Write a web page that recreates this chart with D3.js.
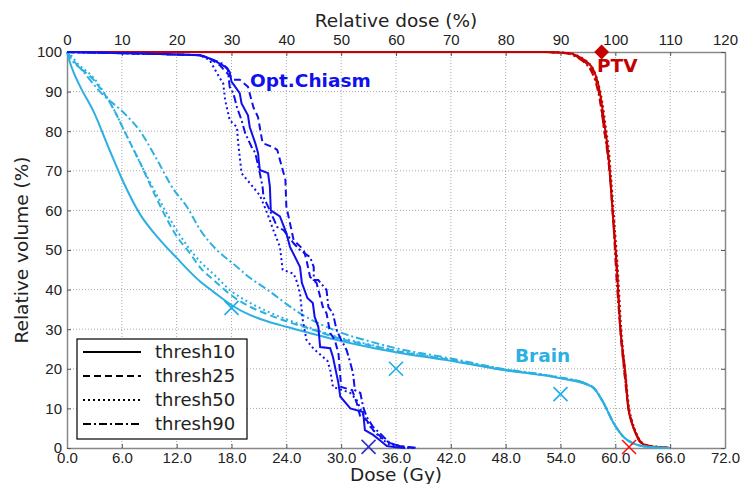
<!DOCTYPE html>
<html>
<head>
<meta charset="utf-8">
<script src="https://cdn.jsdelivr.net/npm/d3@7"></script>
<style>
body { margin: 0; background: #fff; }
svg { font-family: "DejaVu Sans", sans-serif; }
</style>
</head>
<body>
<svg id="graph1"></svg>
<script>
// ticks
var doseTicks = [0, 6, 12, 18, 24, 30, 36, 42, 48, 54, 60, 66, 72]
var relTicks = [0, 10, 20, 30, 40, 50, 60, 70, 80, 90, 100, 110, 120]
var volTicks = [0, 10, 20, 30, 40, 50, 60, 70, 80, 90, 100]
var thresholds = ["thresh10", "thresh25", "thresh50", "thresh90"]

// DVH curves, [dose (Gy), volume (%)]
var brain10 = [[0,100],[0.3,97.5],[0.7,95],[1.5,91],[2.9,85],[4.7,75],[6,68],[8,59],[10,53],[12,48],[14.6,42],[16,39.5],[18.2,35.8],[20,33.6],[21.9,32],[24,30.6],[26.6,29],[30,27],[33,25.5],[36,24.2],[42,22],[47.4,19.8],[54,17.6],[56.9,16],[57.6,15.2],[58.7,11.4],[59.8,6.3],[60.9,2.8],[62.4,0.8],[64,0.2],[66,0]]
var brain25 = [[0,100],[0.5,98.5],[1,97],[2.9,93],[5,86],[6.5,79],[8,72],[9.8,63],[12,53.5],[13.5,49],[14.6,45.5],[16,42.5],[18.2,38.2],[20,35.7],[21.9,33.8],[24,32],[27,29.8],[30,27.5],[33,26],[36,24.5],[42,22.2],[47.4,19.9],[54,17.7],[56.9,16.1],[57.6,15.2],[58.7,11.4],[59.8,6.3],[60.9,2.8],[62.4,0.8],[64,0.2],[66,0]]
var brain50 = [[0,100],[0.5,99],[1,97.5],[2.9,93.5],[5,86],[6.5,79],[8,72],[9.8,64],[12,55],[14.6,47],[16,44],[18.2,39.2],[19.3,37.6],[21.9,34.5],[24,32.5],[27,30],[30,27.8],[33,26.2],[36,24.6],[42,22.3],[47.4,20],[54,17.7],[56.9,16.1],[57.6,15.2],[58.7,11.4],[59.8,6.3],[60.9,2.8],[62.4,0.8],[64,0.2],[66,0]]
var brain90 = [[0,100],[0.5,98],[1.4,96],[3.6,90],[6.5,84],[8,80],[9.8,73],[11.6,65.5],[13.1,61],[14.6,55],[16.4,50],[18.2,46.5],[20,43],[21.9,40],[25.5,34],[29.9,29.2],[33,27],[36,25.2],[42,22.6],[47.4,20.1],[54,17.8],[56.9,16.2],[57.6,15.3],[58.7,11.5],[59.8,6.4],[60.9,2.8],[62.4,0.8],[64,0.2],[66,0]]

var chiasm10 = [[0,100],[10,99.5],[14.5,99.2],[14.9,99],[16,98],[17.5,96],[17.8,95],[18,92.5],[18.9,89.6],[19.1,87],[19.8,84],[20,81],[20.6,77],[20.9,74.5],[21.1,70.2],[22,69.4],[22.2,66],[22.3,60],[23.3,58.5],[24,54.3],[24.4,50.8],[25.5,45.7],[25.7,41.7],[26.3,37.9],[26.9,36.6],[27.1,33.1],[27.5,30.6],[27.7,25.5],[28.8,25.2],[29.1,23],[29.7,16.4],[29.9,13],[31,10],[32.4,9.1],[32.6,4.5],[33.5,3.3],[34.2,2],[35,0.5],[36,0.2],[37,0]]
var chiasm25 = [[0,100],[10,99.5],[14.5,99.2],[15.5,98.5],[16.7,96.7],[18.2,93],[18.9,93],[19.8,91.2],[20.4,86],[20.9,83.6],[21.4,77],[22.5,76],[23,75.3],[23.9,67.7],[24,61],[24.8,52.5],[25.9,50],[26.2,47.5],[26.6,43.2],[27.3,41.7],[28,35.6],[28.4,34],[28.8,29],[29.3,27.3],[29.7,24],[30,15.4],[31.2,14.6],[31.7,11.4],[32.1,7.8],[32.8,7],[33.5,4.5],[34.5,2.5],[35.3,1.3],[36.4,0.5],[38,0]]
var chiasm50 = [[0,100],[10,99.5],[14.5,99.2],[15.6,98],[16.4,94.7],[17.1,92],[17.3,87.9],[17.8,82.8],[18.6,81],[18.7,77.8],[18.9,73.5],[19.1,69.4],[19.7,67.7],[20,66.9],[21.1,63.8],[21.7,60.5],[22.2,57.5],[22.5,55.5],[23.3,50.8],[23.6,45],[24.8,44],[25.2,41.7],[25.5,39],[25.8,32.3],[26.2,27.3],[27,25],[28.5,22],[28.8,19.7],[29.1,15.4],[30.2,14.6],[31,13.9],[31.7,12.1],[32.3,8.8],[33.2,5.3],[34.2,2.8],[35.3,0.8],[36.5,0.2],[37.5,0]]
var chiasm90 = [[0,100],[10,99.5],[14.5,99.2],[16,98],[17.1,97],[17.6,95.5],[17.8,91.2],[18.2,89.6],[18.6,86],[19.1,82.8],[19.5,79.5],[20.2,76],[20.6,74.5],[21.1,69.4],[21.4,66],[21.5,63.4],[22.2,60],[23,55.8],[23.7,55],[24.8,51.7],[25.5,50],[26.6,48.2],[27,45.7],[27,42.4],[27.5,42.4],[28.4,39.9],[28.6,35.6],[29.1,34],[29.5,29.8],[30,27.3],[30.6,24.7],[31,21.5],[31.3,18.9],[31.5,14.6],[32.1,13.9],[32.4,10.4],[32.8,7.8],[33.5,5.3],[34.2,3.8],[35.3,1.3],[36.5,0.4],[38.5,0]]

var ptv10 = [[0,100],[52,100],[55,99.7],[56.1,98.7],[56.9,97.5],[57.6,95.5],[58.1,92.2],[58.5,87],[58.9,80.3],[59.2,75],[59.4,69.4],[59.8,56.8],[60.2,44.2],[60.5,31.6],[61.1,18.9],[61.4,10.4],[61.8,6.3],[62.2,3.8],[62.7,1.5],[63.5,0.6],[65,0.2],[66,0]]
var ptv25 = [[0,100],[52,100],[55,99.6],[56,98.6],[56.8,97.2],[57.5,95],[58,92],[58.4,87],[58.8,80],[59.2,74],[59.4,69],[59.8,56.5],[60.2,44],[60.5,31.5],[61,19],[61.4,10.6],[61.8,6.5],[62.2,4],[62.8,1.5],[63.6,0.6],[65,0.2],[66,0]]
var ptv50 = [[0,100],[52,100],[55,99.7],[56.1,98.8],[56.9,97.6],[57.6,95.6],[58.1,92.4],[58.6,87],[59,80.3],[59.3,75],[59.5,69.4],[59.9,56.8],[60.3,44.2],[60.6,31.6],[61.1,19],[61.5,10.4],[61.9,6.3],[62.3,3.8],[62.8,1.5],[63.6,0.6],[65,0.2],[66,0]]
var ptv90 = [[0,100],[52,100],[54.8,99.6],[55.9,98.5],[56.7,97.2],[57.4,95],[57.9,92],[58.4,86.5],[58.8,80],[59.1,75],[59.4,69],[59.8,56.5],[60.1,44],[60.5,31.5],[61,19],[61.4,10.6],[61.8,6.5],[62.2,4],[62.8,1.6],[63.6,0.6],[65,0.2],[66,0]]

// constraint markers [dose (Gy), volume (%)]
var brainMarks = [[18, 35.4], [36, 20], [54, 13.6]]
var chiasmMarks = [[33, 0.3]]
var ptvMarks = [[61.5, 0.25]]
var ptvDiamond = [[97.5, 100]] // relative dose (%)

var svgw = 745
var svgh = 484
var margins = {left: 67, top: 52, right: 20, bottom: 36}
var graphDim = {width: svgw - margins.left - margins.right, height: svgh - margins.top - margins.bottom}

var colors = {brain: "#2cb0e1", chiasm: "#1010ee", ptv: "#c40000"}
var dashes = ["none", "7,4", "2,3", "8,3,2,3"]

var svg = d3.select("#graph1").attr("width", svgw).attr("height", svgh)

var xScale = d3.scaleLinear().domain([0, 72]).range([margins.left, margins.left + graphDim.width])
var xRel = d3.scaleLinear().domain([0, 120]).range([margins.left, margins.left + graphDim.width])
var yScale = d3.scaleLinear().domain([0, 100]).range([margins.top + graphDim.height, margins.top])

// grid
var grid = svg.append("g")
grid.selectAll("line.vx").data(doseTicks.slice(1, -1)).enter().append("line")
    .attr("x1", function(d){return xScale(d)}).attr("x2", function(d){return xScale(d)})
    .attr("y1", yScale(0)).attr("y2", yScale(100))
    .attr("stroke", "#aaa").attr("stroke-dasharray", "1,2").attr("stroke-width", 1)
grid.selectAll("line.hy").data(volTicks.slice(1, -1)).enter().append("line")
    .attr("y1", function(d){return yScale(d)}).attr("y2", function(d){return yScale(d)})
    .attr("x1", xScale(0)).attr("x2", xScale(72))
    .attr("stroke", "#aaa").attr("stroke-dasharray", "1,2").attr("stroke-width", 1)

// axes
var styleAxis = function(g)
{
    g.selectAll(".domain").attr("stroke", "#888").attr("stroke-width", 1.5)
    g.selectAll(".tick line").attr("stroke", "#555")
    g.selectAll("text").style("font-size", "15px").attr("fill", "#222")
}
svg.append("g").attr("transform", "translate(0," + yScale(0) + ")")
    .call(d3.axisBottom(xScale).tickValues(doseTicks).tickFormat(d3.format(".1f")).tickSizeInner(-4).tickSizeOuter(0).tickPadding(4))
    .call(styleAxis)
svg.append("g").attr("transform", "translate(0," + yScale(100) + ")")
    .call(d3.axisTop(xRel).tickValues(relTicks).tickFormat(d3.format("d")).tickSizeInner(-4).tickSizeOuter(0).tickPadding(7))
    .call(styleAxis)
svg.append("g").attr("transform", "translate(" + xScale(0) + ",0)")
    .call(d3.axisLeft(yScale).tickValues(volTicks).tickSizeInner(-4).tickSizeOuter(0).tickPadding(5))
    .call(styleAxis)
svg.append("g").attr("transform", "translate(" + xScale(72) + ",0)")
    .call(d3.axisRight(yScale).tickValues(volTicks).tickFormat("").tickSizeInner(-4).tickSizeOuter(0))
    .call(styleAxis)

// axis labels
svg.append("text").text("Relative dose (%)").attr("text-anchor", "middle")
    .attr("x", margins.left + graphDim.width / 2).attr("y", 27).style("font-size", "18.5px").attr("fill", "#222")
svg.append("text").text("Dose (Gy)").attr("text-anchor", "middle")
    .attr("x", margins.left + graphDim.width / 2).attr("y", 481).style("font-size", "18.5px").attr("fill", "#222")
svg.append("text").text("Relative volume (%)").attr("text-anchor", "middle")
    .attr("transform", "translate(28," + (margins.top + graphDim.height / 2) + ") rotate(-90)")
    .style("font-size", "18.5px").attr("fill", "#222")

// curves
var line = d3.line().x(function(d){return xScale(d[0])}).y(function(d){return yScale(d[1])})
var drawSet = function(sets, color, curve)
{
    sets.forEach(function(s, i)
    {
        svg.append("path").datum(s)
            .attr("d", line.curve(curve))
            .attr("fill", "none")
            .attr("stroke", color)
            .attr("stroke-width", 2)
            .attr("stroke-dasharray", dashes[i])
    })
}
drawSet([ptv10, ptv25, ptv50, ptv90], colors.ptv, d3.curveMonotoneX)
drawSet([brain10, brain25, brain50, brain90], colors.brain, d3.curveMonotoneX)
drawSet([chiasm10, chiasm25, chiasm50, chiasm90], colors.chiasm, d3.curveLinear)

// markers
var drawX = function(data, color)
{
    var g = svg.append("g").attr("stroke", color).attr("stroke-width", 1.6)
    data.forEach(function(d)
    {
        var cx = xScale(d[0]), cy = yScale(d[1]), r = 7
        g.append("line").attr("x1", cx - r).attr("y1", cy - r).attr("x2", cx + r).attr("y2", cy + r)
        g.append("line").attr("x1", cx - r).attr("y1", cy + r).attr("x2", cx + r).attr("y2", cy - r)
    })
}
drawX(brainMarks, "#1aaeea")
drawX(chiasmMarks, "#3030c8")
drawX(ptvMarks, "#ff1010")

svg.selectAll("path.diamond").data(ptvDiamond).enter().append("path")
    .attr("d", d3.symbol().type(d3.symbolSquare).size(110))
    .attr("transform", function(d){return "translate(" + xRel(d[0]) + "," + yScale(d[1]) + ") rotate(45)"})
    .attr("fill", colors.ptv)

// structure labels
svg.append("text").text("Opt.Chiasm").attr("x", 250).attr("y", 87)
    .style("font-size", "18.5px").style("font-weight", "bold").attr("fill", colors.chiasm)
svg.append("text").text("PTV").attr("x", 597).attr("y", 72)
    .style("font-size", "18.5px").style("font-weight", "bold").attr("fill", colors.ptv)
svg.append("text").text("Brain").attr("x", 515).attr("y", 362)
    .style("font-size", "18.5px").style("font-weight", "bold").attr("fill", colors.brain)

// legend
var legend = svg.append("g").attr("transform", "translate(77,339)")
legend.append("rect").attr("width", 170).attr("height", 100)
    .attr("fill", "#fff").attr("stroke", "#000").attr("stroke-width", 1.2)
var entries = legend.selectAll("g").data(thresholds).enter().append("g")
    .attr("transform", function(d, i){return "translate(0," + (13 + i * 24) + ")"})
entries.append("line").attr("x1", 6).attr("x2", 64).attr("y1", 0).attr("y2", 0)
    .attr("stroke", "#000").attr("stroke-width", 2)
    .attr("stroke-dasharray", function(d, i){return dashes[i]})
entries.append("text").text(function(d){return d}).attr("x", 78).attr("y", 6)
    .style("font-size", "18px").attr("fill", "#222")
</script>
</body>
</html>
